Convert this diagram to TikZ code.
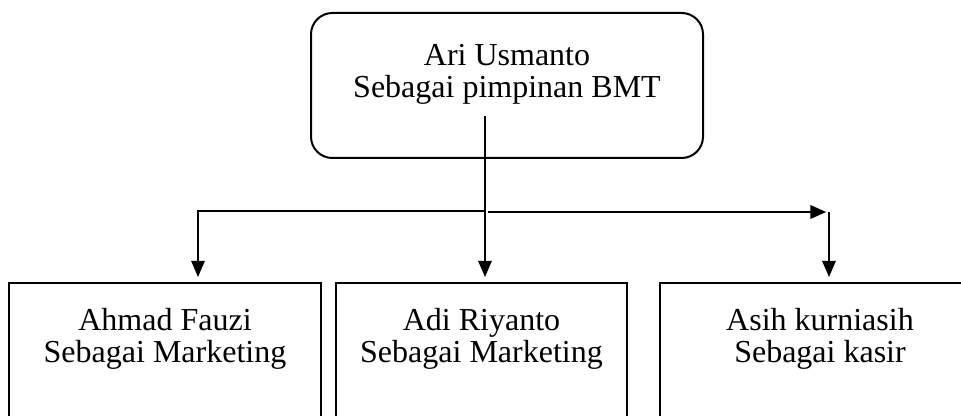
\documentclass[tikz,border=0pt]{standalone}
\usepackage{fontspec}
\setmainfont{Liberation Serif}
\usetikzlibrary{arrows.meta}

\tikzset{
  kotak/.style={draw, line width=1.5pt, inner sep=0pt},
  teks/.style={align=center, inner sep=0pt, font=\fontsize{24}{24}\selectfont},
  panah/.style={-{Triangle[length=12pt,width=10pt]}, line width=1.3pt, shorten >=3.75pt},
}

\begin{document}
\begin{tikzpicture}[x=0.75pt, y=-0.75pt]
            \useasboundingbox (0,0) rectangle (961,416);
            \clip (0,0) rectangle (961,416);
            \node[kotak, rounded corners=16pt, minimum width=294pt, minimum height=108.75pt] (pimpinan) at (507,85.5) {};
            \node[teks] (pimpinan-teks) at (507,74) {Ari Usmanto\\Sebagai pimpinan BMT};
            \foreach \nama/\x/\lebar/\isi in {marketing1/165/234pt/{Ahmad Fauzi\\Sebagai Marketing},
                    marketing2/481.5/218.25pt/{Adi Riyanto\\Sebagai Marketing},
                    kasir/820/240pt/{Asih kurniasih\\Sebagai kasir}} {
                \node[kotak, minimum width=\lebar, minimum height=110.25pt] (\nama) at (\x,356.5) {};
                \node[teks] (\nama-teks) at (\x,338.5) {\isi};
            }
            \coordinate (pangkal) at (485,116);
            \coordinate (cabang) at (485,211);
            \coordinate (kiri) at (198,211);
            \coordinate (cabang-kanan) at (488,212);
            \coordinate (kanan) at (829,212);
            \draw[panah] (pangkal) -- (pangkal |- marketing2.north);          % tengah
            \draw[panah, line width=1.1pt] (cabang) -| (kiri |- marketing1.north);   % kiri
            \draw[panah, line width=1.8pt, shorten >=2pt] (cabang-kanan) -- (kanan);  % ke kanan
            \draw[panah] (kanan) -- (kanan |- kasir.north);                % kasir
        \end{tikzpicture}
\end{document}
